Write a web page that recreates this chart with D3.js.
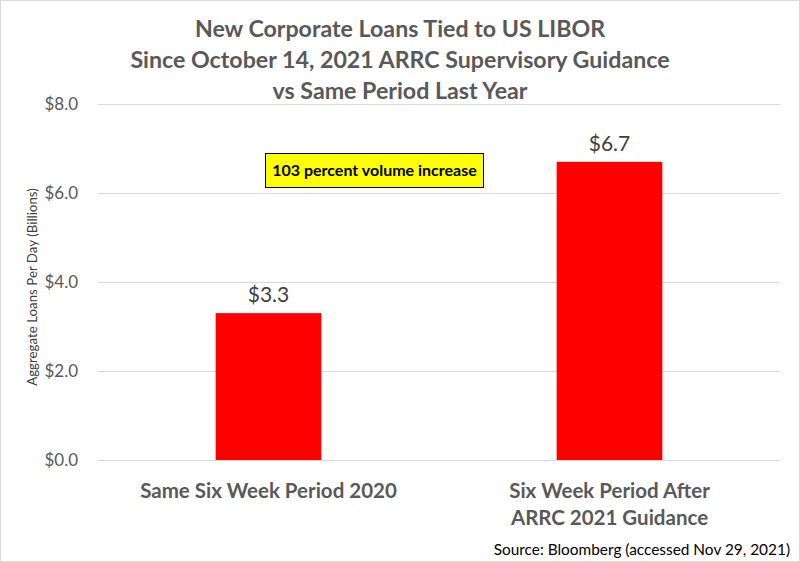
<!DOCTYPE html>
<html>
<head>
<meta charset="utf-8">
<script src="https://d3js.org/d3.v7.min.js"></script>
<style>
  body { margin: 0; background: #fff; }
  svg { font-family: Lato, "Open Sans", sans-serif; display: block; }
</style>
</head>
<body>
<script>
// chart data
var categories = [["Same Six Week Period 2020"], ["Six Week Period After", "ARRC 2021 Guidance"]];
var values = [3.3, 6.7];
var valueLabels = ["$3.3", "$6.7"];
var yTicks = [0, 2, 4, 6, 8];
var titleLines = ["New Corporate Loans Tied to US LIBOR",
                  "Since October 14, 2021 ARRC Supervisory Guidance",
                  "vs Same Period Last Year"];
var note = "103 percent volume increase";
var source = "Source: Bloomberg (accessed Nov 29, 2021)";

var W = 800, H = 562;
var plotLeft = 98, plotRight = 780, plotTop = 104, plotBottom = 460;

var svg = d3.select("body").append("svg")
  .attr("width", W).attr("height", H);

svg.append("rect")
  .attr("x", 0.5).attr("y", 0.5)
  .attr("width", W - 1).attr("height", H - 1)
  .attr("fill", "#fff").attr("stroke", "#d9d9d9");

var x = d3.scaleBand()
  .domain(d3.range(values.length))
  .range([plotLeft, plotRight])
  .paddingInner(0.69)
  .paddingOuter(0.345);

var y = d3.scaleLinear().domain([0, 8]).range([plotBottom, plotTop]);

// gridlines
svg.append("g").selectAll("line")
  .data(yTicks).enter().append("line")
  .attr("x1", plotLeft).attr("x2", plotRight)
  .attr("y1", function(d) { return Math.round(y(d)) + 0.5; })
  .attr("y2", function(d) { return Math.round(y(d)) + 0.5; })
  .attr("stroke", "#d9d9d9").attr("stroke-width", 1);

// y axis labels
var yAxis = svg.append("g")
  .attr("transform", "translate(" + plotLeft + ",0)")
  .call(d3.axisLeft(y).tickValues(yTicks)
        .tickFormat(function(d) { return "$" + d3.format(".1f")(d); })
        .tickSize(0).tickPadding(20));
yAxis.select(".domain").remove();
yAxis.selectAll("text")
  .attr("fill", "#595959")
  .style("font-size", "17px")
  .style("font-family", "Lato, 'Open Sans', sans-serif");

svg.append("text")
  .attr("transform", "translate(37,287) rotate(-90)")
  .attr("text-anchor", "middle")
  .attr("fill", "#404040")
  .style("font-size", "13.3px")
  .text("Aggregate Loans Per Day (Billions)");

// bars
svg.append("g").selectAll("rect")
  .data(values).enter().append("rect")
  .attr("x", function(d, i) { return x(i); })
  .attr("width", x.bandwidth())
  .attr("y", function(d) { return y(d); })
  .attr("height", function(d) { return y(0) - y(d); })
  .attr("fill", "#ff0000");

// value labels
svg.append("g").selectAll("text")
  .data(values).enter().append("text")
  .attr("x", function(d, i) { return x(i) + x.bandwidth() / 2; })
  .attr("y", function(d) { return y(d) - 11; })
  .attr("text-anchor", "middle")
  .attr("fill", "#404040")
  .style("font-size", "21px")
  .text(function(d, i) { return valueLabels[i]; });

// category labels
var cat = svg.append("g").selectAll("text")
  .data(categories).enter().append("text")
  .attr("x", function(d, i) { return x(i) + x.bandwidth() / 2; })
  .attr("y", 498)
  .attr("text-anchor", "middle")
  .attr("fill", "#595959")
  .style("font-size", "20.5px")
  .style("font-weight", "bold");
cat.selectAll("tspan")
  .data(function(d) { return d; }).enter().append("tspan")
  .attr("x", function() { return d3.select(this.parentNode).attr("x"); })
  .attr("dy", function(d, i) { return i === 0 ? 0 : 27; })
  .text(function(d) { return d; });

// title
svg.append("g").selectAll("text")
  .data(titleLines).enter().append("text")
  .attr("x", 400)
  .attr("y", function(d, i) { return 37 + i * 31; })
  .attr("text-anchor", "middle")
  .attr("fill", "#595959")
  .style("font-size", "23.2px")
  .style("font-weight", "bold")
  .text(function(d) { return d; });

// annotation box
svg.append("rect")
  .attr("x", 265.5).attr("y", 153.5)
  .attr("width", 218).attr("height", 34)
  .attr("fill", "#ffff00").attr("stroke", "#000").attr("stroke-width", 1);
svg.append("text")
  .attr("x", 374.5).attr("y", 176)
  .attr("text-anchor", "middle")
  .attr("fill", "#000")
  .style("font-size", "16px")
  .style("font-weight", "bold")
  .text(note);

// source
svg.append("text")
  .attr("x", 790).attr("y", 555)
  .attr("text-anchor", "end")
  .attr("fill", "#000")
  .style("font-size", "15.4px")
  .text(source);
</script>
</body>
</html>
